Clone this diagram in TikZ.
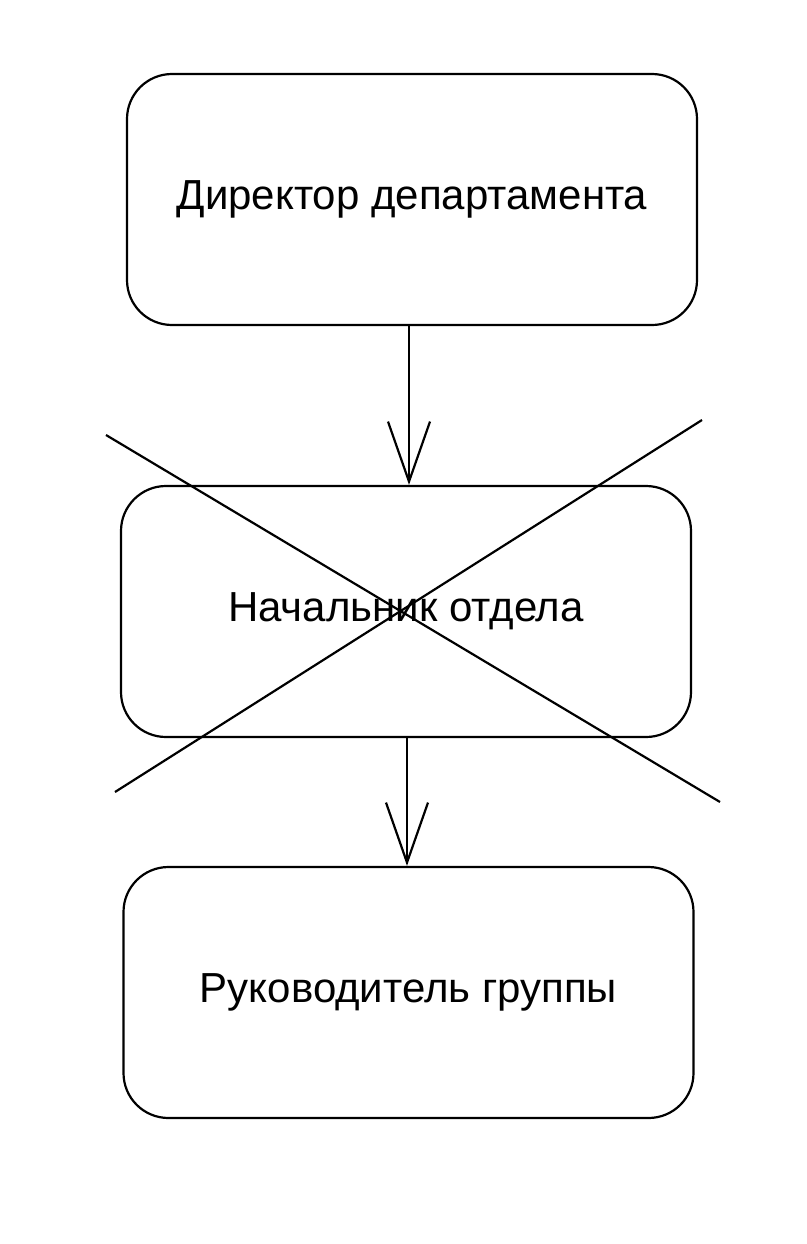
\documentclass[tikz,border=0pt]{standalone}
\usepackage{fontspec}
\setmainfont{Liberation Sans}
\usetikzlibrary{arrows.meta}
\begin{document}
\begin{tikzpicture}[x=1pt,y=-1pt,
  box/.style={draw=black,line width=2.2pt,rounded corners=45pt,minimum width=570pt,minimum height=251pt,inner sep=0pt,font=\fontsize{42}{48}\selectfont},
  arr/.style={draw=black,line width=2.2pt,-{Straight Barb[length=60pt,width=42pt,line width=2.2pt]}},
  crossline/.style={draw=black,line width=2.2pt}]
\useasboundingbox[fill=white] (0,0) rectangle (806,1244);
\node[box] (b1) at (412,199.5) {Директор департамента};
\node[box] (b2) at (406,611.5) {Начальник отдела};
\node[box] (b3) at (408.5,992.5) {Руководитель группы};
\draw[arr] ([xshift=-3pt]b1.south) -- ([xshift=3pt]b2.north);
\draw[arr] ([xshift=1pt]b2.south) -- ([xshift=-1.5pt]b3.north);
\draw[crossline] (106,435) -- (720,802);
\draw[crossline] (115,792) -- (702,420);
\end{tikzpicture}
\end{document}
